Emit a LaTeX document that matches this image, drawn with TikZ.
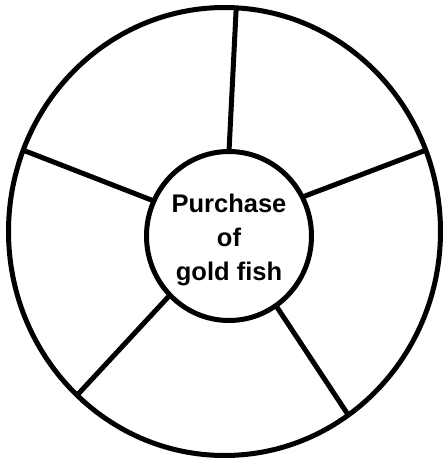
\documentclass[tikz,border=0pt]{standalone}
\usepackage{fontspec}
\usepackage{tikz}
\usetikzlibrary{positioning,shapes.geometric}
\newfontfamily\wheelfont{Liberation Sans}
\tikzset{
  rim/.style={
    ellipse,
    draw=black,
    line width=5pt,
    inner sep=0pt,
    outer sep=0pt,
    minimum width=432pt,
    minimum height=448pt
  },
  hub/.style={
    ellipse,
    draw=black,
    line width=5pt,
    inner sep=0pt,
    outer sep=0pt,
    minimum width=165pt,
    minimum height=169pt
  },
  caption/.style={
    align=center,
    inner sep=0pt,
    font=\wheelfont\bfseries\fontsize{25.5}{34}\selectfont
  },
  spoke/.style={
    line width=5pt,
    black
  }
}
\begin{document}
\begin{tikzpicture}[x=1pt,y=-1pt]
\useasboundingbox (0,0) rectangle (444,459);
\node[rim] (w) at (224.5,231.5) {};
\node[hub] (h) at (229,236) {};
\node[caption] (t) at ([yshift=-4pt]h.center) {Purchase\\of\\gold fish};
\draw[spoke] (h.90) -- (w.87.3);
\draw[spoke] (h.155.5) -- (w.158);
\draw[spoke] (h.28.3) -- (w.22.8);
\draw[spoke] (h.225.9) -- (w.228.2);
\draw[spoke] (h.304.2) -- (w.304.7);
\end{tikzpicture}
\end{document}
